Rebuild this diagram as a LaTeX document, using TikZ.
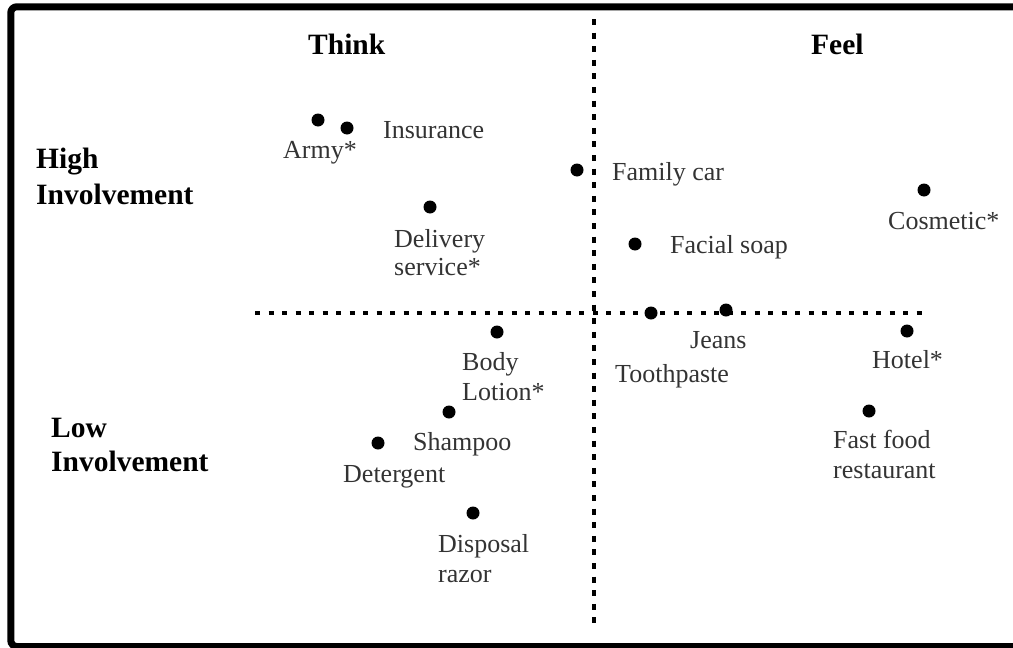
\documentclass[tikz,border=0pt]{standalone}
\usepackage{fontspec}
\setmainfont{Liberation Serif}
\begin{document}
\begin{tikzpicture}[x=1pt,y=-1pt,
  dot/.style={circle,fill=black,inner sep=0pt,minimum size=13pt},
  lbl/.style={anchor=base west,inner sep=0pt,text=black!80,
              font=\fontsize{26}{30}\selectfont},
  head/.style={anchor=base west,inner sep=0pt,text=black,
               font=\fontsize{29.5}{35}\selectfont\bfseries},
  hdivider/.style={line width=4.5pt,dash pattern=on 5pt off 8.5pt},
  vdivider/.style={line width=4.5pt,dash pattern=on 6pt off 7.6pt}]
\useasboundingbox (0,0) rectangle (1013,648);
% outer frame (runs past the right edge)
\draw[line width=7pt,rounded corners=6pt] (1040,6.8) -- (10.8,6.8) -- (10.8,646.5) -- (1040,646.5);
% quadrant dividers
\coordinate (hl) at (255,313);
\coordinate (hr) at (928,313);
\coordinate (vt) at (594,19);
\coordinate (vb) at (594,623);
\draw[hdivider] (hl) -- (hr);
\draw[vdivider] (vt) -- (vb);
% headings
\node[head] (think) at (308,54) {Think};
\node[head] (feel) at (811,54) {Feel};
\node[head] (high1) at (36,168) {High};
\node[head] (high2) at (36,204) {Involvement};
\node[head] (low1) at (51,437) {Low};
\node[head] (low2) at (51,471) {Involvement};
% data points
\node[dot] (army) at (318,120) {};
\node[dot] (insurance) at (347,128) {};
\node[dot] (familycar) at (577,170) {};
\node[dot] (delivery) at (430,207) {};
\node[dot] (cosmetic) at (924,190) {};
\node[dot] (facialsoap) at (635,244) {};
\node[dot] (toothpaste) at (651,313) {};
\node[dot] (jeans) at (726,310) {};
\node[dot] (bodylotion) at (497,332) {};
\node[dot] (hotel) at (907,331) {};
\node[dot] (shampoo) at (449,412) {};
\node[dot] (detergent) at (378,443) {};
\node[dot] (fastfood) at (869,411) {};
\node[dot] (razor) at (473,513) {};
% point labels
\node[lbl] (armyL) at (283,158) {Army*};
\node[lbl] (insuranceL) at (383,138) {Insurance};
\node[lbl] (familycarL) at (612,180) {Family car};
\node[lbl] (deliveryL1) at (394,247) {Delivery};
\node[lbl] (deliveryL2) at (394,275) {service*};
\node[lbl] (cosmeticL) at (888,229) {Cosmetic*};
\node[lbl] (facialsoapL) at (670,253) {Facial soap};
\node[lbl] (jeansL) at (690,348) {Jeans};
\node[lbl] (toothpasteL) at (615,382) {Toothpaste};
\node[lbl] (bodylotionL1) at (462,370) {Body};
\node[lbl] (bodylotionL2) at (462,400) {Lotion*};
\node[lbl] (hotelL) at (872,368) {Hotel*};
\node[lbl] (shampooL) at (413,450) {Shampoo};
\node[lbl] (detergentL) at (343,482) {Detergent};
\node[lbl] (fastfoodL1) at (833,448) {Fast food};
\node[lbl] (fastfoodL2) at (833,478) {restaurant};
\node[lbl] (razorL1) at (438,552) {Disposal};
\node[lbl] (razorL2) at (438,582) {razor};
\end{tikzpicture}
\end{document}
